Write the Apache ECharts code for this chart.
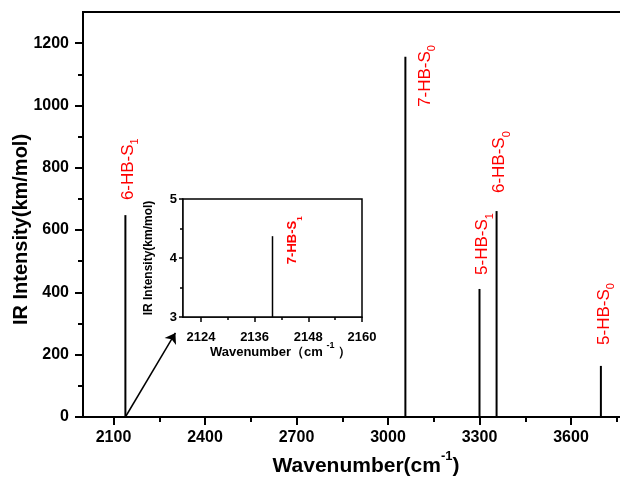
<!DOCTYPE html>
<html>
<head>
<meta charset="utf-8">
<script src="https://cdn.jsdelivr.net/npm/echarts@6/dist/echarts.min.js"></script>
<style>
  html, body { margin: 0; padding: 0; background: #fff; }
  #chart { width: 620px; height: 479px; }
</style>
</head>
<body>
<div id="chart"></div>
<script>
// peaks of the main spectrum
const wavenumbers = [2139, 3057, 3300, 3356, 3698]
const intensities = [648, 1156, 411, 661, 164]
const peakNames = ['6-HB-S', '7-HB-S', '5-HB-S', '6-HB-S', '5-HB-S']
const peakSubs = ['1', '0', '1', '0', '0']

// inset peak
const insetWavenumbers = [2140]
const insetIntensities = [4.37]
const insetNames = ['7-HB-S']
const insetSubs = ['1']

// ticks
const xTicks = [2100, 2400, 2700, 3000, 3300, 3600]
const xMinor = [2250, 2550, 2850, 3150, 3450, 3750]
const yTicks = [0, 200, 400, 600, 800, 1000, 1200]
const yMinor = [100, 300, 500, 700, 900, 1100]
const insetXTicks = [2124, 2136, 2148, 2160]
const insetXMinor = [2130, 2142, 2154]
const insetYTicks = [3, 4, 5]
const insetYMinor = [3.5, 4.5]

// arrow from the 6-HB-S1 peak to the inset
const arrowFrom = [2139, 0]
const arrowTo = [2303, 270]

// gap between a peak top and its label (px); 7-HB-S0 sits beside its line
const labelGaps = [15, 0, 14, 18, 21]

const FONT = '"Liberation Sans", Arial, sans-serif'

function axisPair(dir, grid, min, max, major, minor, o){
  const base = {
    type: 'value', gridIndex: grid, min, max,
    position: dir === 'x' ? 'bottom' : 'left',
    splitLine: { show: false },
  }
  const main = Object.assign({}, base, {
    nameMoveOverlap: false,
    axisLine: { show: true, onZero: false, lineStyle: { color: '#000', width: o.lw } },
    axisTick: { show: true, inside: false, length: o.major, customValues: major, lineStyle: { color: '#000', width: o.lw } },
    axisLabel: {
      show: true, customValues: major, margin: o.margin,
      formatter: v => String(v),
      color: '#000', fontFamily: FONT, fontWeight: 'bold', fontSize: o.fs,
    },
  }, o.extra || {})
  const sub = Object.assign({}, base, {
    axisLine: { show: false, onZero: false },
    axisTick: { show: true, inside: false, length: o.minor, customValues: minor, lineStyle: { color: '#000', width: o.lw } },
    axisLabel: { show: false },
  })
  return [main, sub]
}

const mainX = axisPair('x', 0, 2000, 3800, xTicks, xMinor, {
  lw: 2, major: 8, minor: 5, margin: 13, fs: 16,
  extra: {
    name: '{a|Wavenumber(cm}{b|-1}{a|)}',
    nameLocation: 'middle', nameGap: 31,
    nameTextStyle: {
      padding: [0, 0, 0, 17],
      rich: {
        a: { fontFamily: FONT, fontWeight: 'bold', fontSize: 21, color: '#000', lineHeight: 24, padding: [8, 0, 0, 0], verticalAlign: 'top' },
        b: { fontFamily: FONT, fontWeight: 'bold', fontSize: 13, color: '#000', lineHeight: 16, padding: [2, 0, 14, 0], verticalAlign: 'top' },
      },
    },
  },
})
const mainY = axisPair('y', 0, 0, 1300, yTicks, yMinor, {
  lw: 2, major: 8, minor: 5, margin: 14, fs: 16,
  extra: {
    name: 'IR Intensity(km/mol)',
    nameLocation: 'middle', nameGap: 52,
    nameTextStyle: { fontFamily: FONT, fontWeight: 'bold', fontSize: 20, color: '#000', padding: [0, 30, 0, 0] },
  },
})
const insetX = axisPair('x', 1, 2120, 2160, insetXTicks, insetXMinor, {
  lw: 1.5, major: 5, minor: 3, margin: 14, fs: 13,
  extra: {
    name: '{a|Wavenumber（cm }{b|-1}{a| ）}',
    nameLocation: 'middle', nameGap: 24,
    nameTextStyle: {
      padding: [0, 0, 0, 16],
      rich: {
        a: { fontFamily: FONT, fontWeight: 'bold', fontSize: 13, color: '#000', lineHeight: 15, padding: [5, 0, 0, 0], verticalAlign: 'top' },
        b: { fontFamily: FONT, fontWeight: 'bold', fontSize: 9, color: '#000', lineHeight: 11, padding: [0, 0, 9, 0], verticalAlign: 'top' },
      },
    },
  },
})
const insetY = axisPair('y', 1, 3, 5, insetYTicks, insetYMinor, {
  lw: 1.5, major: 4, minor: 3, margin: 6, fs: 13,
  extra: {
    name: 'IR Intensity(km/mol)',
    nameLocation: 'middle', nameGap: 28,
    nameTextStyle: { fontFamily: FONT, fontWeight: 'bold', fontSize: 12, color: '#000' },
  },
})

function peakRich(size, bold){
  const w = bold ? 'bold' : 'normal'
  const sub = Math.round(size * 0.65)
  return {
    a: { fontFamily: FONT, fontWeight: w, fontSize: size, color: '#ff0000', lineHeight: size + 2, padding: [10, 0, 10, 0], verticalAlign: 'top' },
    s: { fontFamily: FONT, fontWeight: w, fontSize: sub, color: '#ff0000', lineHeight: size + 2, padding: [20, 0, 0, 0], verticalAlign: 'top' },
  }
}

const mainData = wavenumbers.map((x, i) => {
  const beside = labelGaps[i] === 0
  return {
    value: [x, intensities[i]],
    label: {
      show: true,
      formatter: `{a|${peakNames[i]}}{s|${peakSubs[i]}}`,
      position: beside ? [18, 50] : 'top',
      distance: labelGaps[i],
      offset: [0, -6],
      rotate: 90,
      align: 'left',
      verticalAlign: 'middle',
      rich: peakRich(17, false),
    },
  }
})

const insetData = insetWavenumbers.map((x, i) => ({
  value: [x, insetIntensities[i]],
  label: {
    show: true,
    formatter: `{a|${insetNames[i]}}{s|${insetSubs[i]}}`,
    position: [18, 28],
    offset: [0, -6],
    rotate: 90,
    align: 'left',
    verticalAlign: 'middle',
    rich: peakRich(13, true),
  },
}))

const chart = echarts.init(document.getElementById('chart'), null, { renderer: 'canvas' })
chart.setOption({
  animation: false,
  backgroundColor: '#fff',
  grid: [
    { left: 83, top: 12, right: -12, bottom: 62, containLabel: false, outerBoundsMode: 'none', show: true, borderColor: '#000', borderWidth: 2, backgroundColor: 'transparent' },
    { left: 183, top: 199, width: 179, height: 118, containLabel: false, outerBoundsMode: 'none', show: true, borderColor: '#000', borderWidth: 1.5, backgroundColor: '#fff', z: 3 },
  ],
  xAxis: [...mainX, ...insetX],
  yAxis: [...mainY, ...insetY],
  series: [
    {
      type: 'bar', xAxisIndex: 0, yAxisIndex: 0,
      barWidth: 2, clip: true, silent: true,
      itemStyle: { color: '#000' },
      data: mainData,
      markLine: {
        silent: true,
        symbol: ['none', 'arrow'],
        symbolSize: 10,
        label: { show: false },
        lineStyle: { color: '#000', width: 1.5, type: 'solid' },
        data: [[{ coord: arrowFrom }, { coord: arrowTo }]],
      },
    },
    {
      type: 'bar', xAxisIndex: 2, yAxisIndex: 2,
      barWidth: 1.5, clip: true, silent: true, z: 4,
      itemStyle: { color: '#000' },
      data: insetData,
    },
  ],
})
</script>
</body>
</html>
